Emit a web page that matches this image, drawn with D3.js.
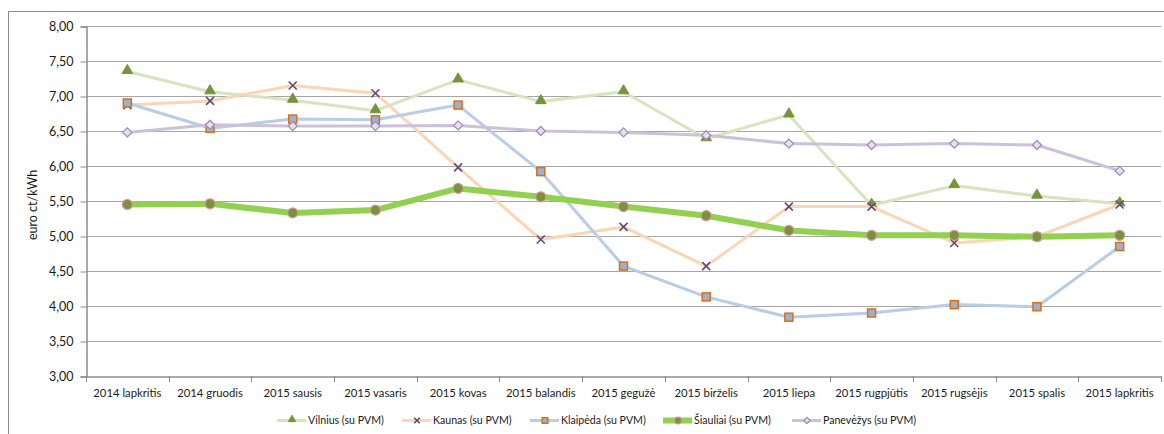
<!DOCTYPE html>
<html>
<head>
<meta charset="utf-8">
<script src="https://cdn.jsdelivr.net/npm/d3@7/dist/d3.min.js"></script>
<style>
  html, body { margin: 0; padding: 0; background: #fff; }
  svg { display: block; font-family: Lato, "Open Sans", sans-serif; }
</style>
</head>
<body>
<svg id="chart" width="1164" height="434"></svg>
<script>
const categories = ["2014 lapkritis", "2014 gruodis", "2015 sausis", "2015 vasaris", "2015 kovas",
  "2015 balandis", "2015 gegužė", "2015 birželis", "2015 liepa", "2015 rugpjūtis",
  "2015 rugsėjis", "2015 spalis", "2015 lapkritis"];
const vilnius   = [7.35, 7.06, 6.94, 6.79, 7.23, 6.92, 7.06, 6.39, 6.73, 5.44, 5.72, 5.57, 5.46];
const kaunas    = [6.87, 6.93, 7.15, 7.04, 5.98, 4.95, 5.13, 4.57, 5.42, 5.42, 4.90, 4.99, 5.45];
const klaipeda  = [6.90, 6.54, 6.67, 6.66, 6.87, 5.92, 4.57, 4.13, 3.84, 3.90, 4.02, 3.99, 4.85];
const siauliai  = [5.45, 5.46, 5.33, 5.37, 5.68, 5.56, 5.42, 5.29, 5.08, 5.01, 5.01, 4.99, 5.01];
const panevezys = [6.48, 6.59, 6.57, 6.57, 6.58, 6.50, 6.48, 6.44, 6.32, 6.30, 6.32, 6.30, 5.93];
const seriesNames = ["Vilnius (su PVM)", "Kaunas (su PVM)", "Klaipėda (su PVM)", "Šiauliai (su PVM)", "Panevėžys (su PVM)"];
const yTicks = [3, 3.5, 4, 4.5, 5, 5.5, 6, 6.5, 7, 7.5, 8];
const yTitle = "euro ct/kWh";

const styles = [
  {line: "#d7e4bd", width: 3, marker: "triangle", fill: "#77933c", stroke: "#77933c", size: 9},
  {line: "#fcd5b5", width: 3, marker: "x", fill: "none", stroke: "#604a7b", size: 8},
  {line: "#b9cde5", width: 3, marker: "square", fill: "#95b3d7", stroke: "#e46c0a", size: 8},
  {line: "#92d050", width: 6, marker: "circle", fill: "#77933c", stroke: "#d99694", size: 10},
  {line: "#ccc1da", width: 3, marker: "diamond", fill: "#e6e0ec", stroke: "#a08cbc", size: 9}
];
const data = [vilnius, kaunas, klaipeda, siauliai, panevezys];

const svg = d3.select("#chart");
const plot = {left: 86, right: 1161, top: 26, bottom: 376};

// outer frame
svg.append("rect").attr("x", 8.5).attr("y", 11.5).attr("width", 1200).attr("height", 500)
  .attr("fill", "none").attr("stroke", "#8c8c8c").attr("stroke-width", 1);

const x = d3.scaleBand().domain(categories).range([plot.left, plot.right]);
const y = d3.scaleLinear().domain([3, 8]).range([plot.bottom, plot.top]);

// gridlines
svg.append("g").selectAll("line").data(yTicks.filter(d => d > 3)).join("line")
  .attr("x1", plot.left).attr("x2", plot.right)
  .attr("y1", d => Math.round(y(d)) + 0.5).attr("y2", d => Math.round(y(d)) + 0.5)
  .attr("stroke", "#a6a6a6").attr("stroke-width", 1.2);

// y axis
const yAxis = d3.axisLeft(y).tickValues(yTicks).tickSize(6).tickPadding(7)
  .tickFormat(d => d3.format(".2f")(d).replace(".", ","));
const gy = svg.append("g").attr("transform", `translate(${plot.left + 0.5},0.5)`).call(yAxis);
gy.select(".domain").attr("stroke", "#8c8c8c").attr("stroke-width", 1.5);
gy.selectAll(".tick line").attr("stroke", "#8c8c8c");
gy.selectAll(".tick text").attr("font-size", 12.5).attr("fill", "#1a1a1a").attr("font-family", "Lato");

// x axis
const xAxis = d3.axisBottom(x).tickSize(0).tickPadding(12);
const gx = svg.append("g").attr("transform", `translate(0,${plot.bottom + 0.5})`).call(xAxis);
gx.select(".domain").attr("stroke", "#8c8c8c").attr("stroke-width", 1.5);
gx.selectAll(".tick text").attr("font-size", 11.3).attr("fill", "#1a1a1a").attr("font-family", "Lato");
// tick marks at band boundaries
const bounds = categories.map(c => x(c)).concat([x(categories[categories.length - 1]) + x.bandwidth()]);
svg.append("g").selectAll("line").data(bounds).join("line")
  .attr("x1", d => Math.round(d) + 0.5).attr("x2", d => Math.round(d) + 0.5)
  .attr("y1", plot.bottom).attr("y2", plot.bottom + 6)
  .attr("stroke", "#8c8c8c");

// y title
svg.append("text").attr("transform", `translate(37,${(plot.top + plot.bottom) / 2 + 4}) rotate(-90)`)
  .attr("text-anchor", "middle").attr("font-size", 12.5).attr("fill", "#1a1a1a")
  .attr("font-family", "Lato").text(yTitle);

function drawMarker(g, type, s, st) {
  if (type === "triangle") {
    g.append("path").attr("d", d3.symbol(d3.symbolTriangle, s * s * 0.6)())
      .attr("transform", "translate(0,-1)")
      .attr("fill", st.fill).attr("stroke", st.stroke);
  } else if (type === "x") {
    const h = s / 2;
    g.append("path").attr("d", `M${-h},${-h}L${h},${h}M${-h},${h}L${h},${-h}`)
      .attr("stroke", st.stroke).attr("stroke-width", 1.6).attr("fill", "none");
  } else if (type === "square") {
    g.append("rect").attr("x", -s / 2).attr("y", -s / 2).attr("width", s).attr("height", s)
      .attr("fill", st.fill).attr("stroke", st.stroke).attr("stroke-width", 1.5);
  } else if (type === "circle") {
    g.append("circle").attr("r", s / 2).attr("fill", st.fill).attr("stroke", st.stroke).attr("stroke-width", 1.2);
  } else if (type === "diamond") {
    const h = s / 2;
    g.append("path").attr("d", `M0,${-h}L${h},0L0,${h}L${-h},0Z`)
      .attr("fill", st.fill).attr("stroke", st.stroke).attr("stroke-width", 1.3);
  }
}

const line = d3.line().x((d, i) => x(categories[i]) + x.bandwidth() / 2).y(d => y(d));
data.forEach((vals, si) => {
  const st = styles[si];
  const g = svg.append("g");
  g.append("path").attr("d", line(vals)).attr("fill", "none")
    .attr("stroke", st.line).attr("stroke-width", st.width).attr("stroke-linejoin", "round");
  vals.forEach((v, i) => {
    const m = g.append("g").attr("transform", `translate(${x(categories[i]) + x.bandwidth() / 2},${y(v)})`);
    drawMarker(m, st.marker, st.size, st);
  });
});

// legend
const legendX = [277, 402, 530, 663, 792];
const ly = 420.5;
seriesNames.forEach((name, i) => {
  const st = styles[i];
  const g = svg.append("g").attr("transform", `translate(${legendX[i]},${ly})`);
  g.append("line").attr("x1", 0).attr("x2", 29).attr("y1", 0).attr("y2", 0)
    .attr("stroke", st.line).attr("stroke-width", st.width);
  const m = g.append("g").attr("transform", "translate(15,0)");
  drawMarker(m, st.marker, st.size * 0.7, st);
  g.append("text").attr("x", 31).attr("y", 3.5).attr("font-size", 10.6).attr("fill", "#1a1a1a")
    .attr("font-family", "Lato").text(name);
});
</script>
</body>
</html>
